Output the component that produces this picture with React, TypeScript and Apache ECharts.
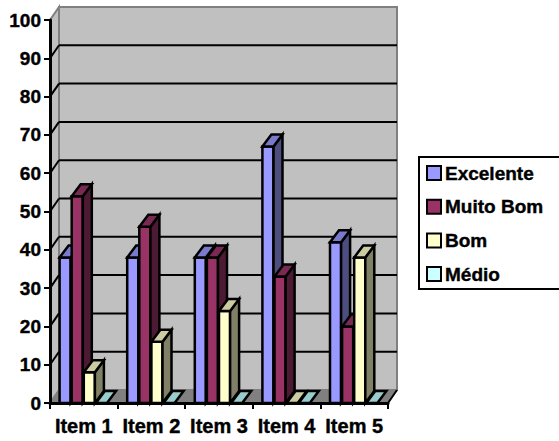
import React, { useEffect, useRef } from "react";
import * as echarts from "echarts";

const categories = ["Item 1", "Item 2", "Item 3", "Item 4", "Item 5"];
const excelente = [38, 38, 38, 67, 42];
const muitoBom = [54, 46, 38, 33, 20];
const bom = [8, 16, 24, 0, 38];
const medio = [0, 0, 0, 0, 0];
const gridValues = [10, 20, 30, 40, 50, 60, 70, 80, 90];

const seriesDefs = [
  { name: "Excelente", values: excelente, front: "#9999ff", top: "#7a7acc", side: "#4d4d80" },
  { name: "Muito Bom", values: muitoBom, front: "#993366", top: "#7a2952", side: "#4d1a33" },
  { name: "Bom", values: bom, front: "#ffffcc", top: "#cccca3", side: "#808066" },
  { name: "Médio", values: medio, front: "#ccffff", top: "#99cccc", side: "#668080" },
];

// Oblique projection of the box: how far the back plane sits from the front plane.
const WALL_DX = 9;
const WALL_DY = -13;
const BAR_DX = 9;
const BAR_DY = -12;
const BAR_STROKE = 2.5;

function poly(points: number[][], fill: string, stroke: string, lineWidth: number) {
  return {
    type: "polygon",
    shape: { points },
    style: { fill, stroke, lineWidth, lineJoin: "miter" },
  };
}

function seg(x1: number, y1: number, x2: number, y2: number, stroke: string, lineWidth: number) {
  return {
    type: "line",
    shape: { x1, y1, x2, y2 },
    style: { stroke, lineWidth },
  };
}

// Left wall, back wall and floor, with the value grid drawn on them.
function renderWalls(_params: any, api: any) {
  const [x0, y0] = api.coord([0, 0]);
  const band = api.size([1, 0])[0];
  const left = x0 - band / 2;
  const right = left + band * categories.length;
  const yTop = api.coord([0, 100])[1];
  const dx = WALL_DX;
  const dy = WALL_DY;
  const children: any[] = [
    poly([[left, yTop], [left + dx, yTop + dy], [left + dx, y0 + dy], [left, y0]], "#c0c0c0", "#808080", 2),
    poly([[left + dx, yTop + dy], [right + dx, yTop + dy], [right + dx, y0 + dy], [left + dx, y0 + dy]], "#c0c0c0", "#808080", 2),
    poly([[left, y0], [left + dx, y0 + dy], [right + dx, y0 + dy], [right, y0]], "#808080", "#808080", 1),
  ];
  gridValues.forEach((v) => {
    const y = api.coord([0, v])[1];
    children.push(seg(left, y, left + dx, y + dy, "#000", 2));
    children.push(seg(left + dx, y + dy, right + dx, y + dy, "#000", 2));
  });
  children.push(seg(right, y0, right + dx, y0 + dy, "#000", 2));
  return { type: "group", children };
}

function renderBar(index: number, def: (typeof seriesDefs)[number]) {
  return (params: any, api: any) => {
    const i = api.value(0);
    const v = api.value(1);
    const [cx, y0] = api.coord([i, 0]);
    const yv = api.coord([i, v])[1];
    const band = api.size([1, 0])[0];
    const w = band * 0.179;
    const x = cx - 2 * w + index * w;
    const r = x + w - 1;
    const dx = BAR_DX;
    const dy = BAR_DY;
    const children: any[] = [];
    if (v > 0) {
      children.push(poly([[x, yv], [r, yv], [r, y0], [x, y0]], def.front, "#000", BAR_STROKE));
      children.push(poly([[r, yv], [r + dx, yv + dy], [r + dx, y0 + dy], [r, y0]], def.side, "#000", BAR_STROKE));
    }
    children.push(poly([[x, yv], [x + dx, yv + dy], [r + dx, yv + dy], [r, yv]], def.top, "#000", BAR_STROKE));
    return { type: "group", children };
  };
}

export default function App() {
  const ref = useRef<HTMLDivElement>(null);

  useEffect(() => {
    document.body.style.margin = "0";
    const chart = echarts.init(ref.current!, undefined, { renderer: "svg" });
    const axisText = {
      color: "#000",
      fontFamily: "Liberation Sans",
      fontWeight: "bold" as const,
      textBorderColor: "#000",
      textBorderWidth: 0.4,
    };
    chart.setOption({
      animation: false,
      backgroundColor: "#ffffff",
      grid: { left: 50, top: 20, width: 338, height: 383 },
      xAxis: {
        type: "category",
        data: categories,
        z: 20,
        axisLine: { show: true, onZero: false, lineStyle: { color: "#000", width: 3 } },
        axisTick: { show: true, alignWithLabel: false, length: 6, lineStyle: { color: "#000", width: 2 } },
        axisLabel: { ...axisText, fontSize: 20, interval: 0, margin: 13 },
        splitLine: { show: false },
      },
      yAxis: {
        type: "value",
        min: 0,
        max: 100,
        interval: 10,
        z: 20,
        axisLine: { show: true, lineStyle: { color: "#000", width: 3 } },
        axisTick: { show: true, length: 6, lineStyle: { color: "#000", width: 2 } },
        axisLabel: { ...axisText, fontSize: 19, margin: 9 },
        splitLine: { show: false },
      },
      legend: {
        orient: "vertical",
        left: 419,
        top: 157,
        width: 139,
        padding: [6, 30, 5, 7],
        data: seriesDefs.map((d) => d.name),
        icon: "rect",
        itemWidth: 14,
        itemHeight: 14,
        itemGap: 13.7,
        borderColor: "#000",
        borderWidth: 2,
        textStyle: { ...axisText, fontSize: 19, lineHeight: 20, padding: [0, 0, 0, -1] },
      },
      series: [
        {
          type: "custom",
          name: "walls",
          silent: true,
          z: 1,
          data: [[0, 0]],
          renderItem: renderWalls,
        },
        ...seriesDefs.map((def, index) => ({
          type: "custom",
          name: def.name,
          z: 2 + index,
          itemStyle: { color: def.front, borderColor: "#000", borderWidth: 2.5 },
          encode: { x: 0, y: 1 },
          data: def.values.map((v, i) => [i, v]),
          renderItem: renderBar(index, def),
        })),
      ],
    });
    return () => chart.dispose();
  }, []);

  return <div ref={ref} style={{ position: "absolute", left: 0, top: 0, width: 559, height: 441 }} />;
}
